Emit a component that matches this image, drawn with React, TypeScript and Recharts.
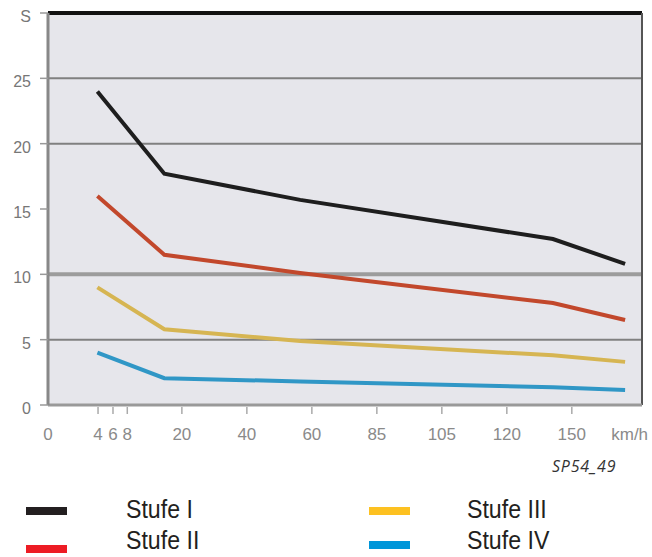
import { CartesianGrid, Legend, Line, LineChart, ReferenceLine, XAxis, YAxis } from "recharts";

// x positions of the axis labels (the axis is not linear, so positions are in label slots)
const xTickPos = [0, 0.77, 1.0, 1.22, 2.06, 3.06, 4.06, 5.06, 6.06, 7.06, 8.06, 8.95];
const xTickLabels = ["0", "4", "6", "8", "20", "40", "60", "85", "105", "120", "150", "km/h"];
const yTicks = [0, 5, 10, 15, 20, 25, 30];
const gridValues = [5, 10, 20, 25];

// where the measured points sit on that same slot scale
const pointPos = [0.76, 1.79, 3.88, 7.77, 8.88];
const stufe1 = [24.0, 17.7, 15.7, 12.7, 10.8];
const stufe2 = [16.0, 11.5, 10.1, 7.8, 6.5];
const stufe3 = [9.0, 5.8, 4.9, 3.8, 3.3];
const stufe4 = [4.0, 2.05, 1.8, 1.35, 1.15];

const seriesNames = ["Stufe I", "Stufe II", "Stufe III", "Stufe IV"];
const lineColors = ["#1e1e1e", "#c2482c", "#d6b552", "#3097c6"];
const legendColors = ["#231f20", "#ed1c24", "#fdc121", "#0096d9"];

const X_MAX = 9.14;

const data = pointPos.map((p, i) => ({
  pos: p,
  s1: stufe1[i],
  s2: stufe2[i],
  s3: stufe3[i],
  s4: stufe4[i],
}));

const XTick = (props: any) => {
  const { x, y, index } = props;
  const label = xTickLabels[index];
  const showMark = index > 0 && index < xTickLabels.length - 1;
  return (
    <g>
      {showMark && <line x1={x} x2={x} y1={y} y2={y + 7} stroke="#aaa" strokeWidth={1.5} />}
      <text x={x} y={y + 33} textAnchor="middle" fill="#8a8a8a" fontSize={17} fontFamily="Liberation Sans, Arial, sans-serif">
        {label}
      </text>
    </g>
  );
};

const YTick = (props: any) => {
  const { y, payload } = props;
  const label = payload.value === 30 ? "S" : String(payload.value);
  return (
    <g>
      <line x1={40} x2={48} y1={y} y2={y} stroke="#999" strokeWidth={1.5} />
      <text x={31} y={y + 9} textAnchor="end" fill="#777" fontSize={16} fontFamily="Liberation Sans, Arial, sans-serif">
        {label}
      </text>
    </g>
  );
};

const LegendBlock = () => {
  // left column: I, II; right column: III, IV
  const cols = [
    [0, 1],
    [2, 3],
  ];
  const colX = [26, 369];
  const textX = [126, 467];
  const rowTop = [46, 77];
  const swatchTop = [57, 95];
  return (
    <div style={{ position: "relative", width: 652, height: 107 }}>
      <span
        style={{
          position: "absolute",
          left: 552,
          top: 6,
          fontFamily: "'Open Sans', sans-serif",
          fontStyle: "italic",
          fontSize: 16,
          letterSpacing: 0.8,
          lineHeight: "20px",
          color: "#333",
          whiteSpace: "nowrap",
        }}
      >
        SP54_49
      </span>
      {cols.map((col, c) =>
        col.map((si, r) => (
          <div key={si}>
            <div
              style={{
                position: "absolute",
                left: colX[c],
                top: swatchTop[r] - (c === 1 && r === 1 ? 4 : 0),
                width: 41,
                height: 8,
                background: legendColors[si],
              }}
            />
            <span
              style={{
                position: "absolute",
                left: textX[c],
                top: rowTop[r],
                display: "inline-block",
                transform: "scaleX(0.89)",
                transformOrigin: "left center",
                fontFamily: "'Liberation Sans', Arial, sans-serif",
                fontSize: 26,
                lineHeight: "27px",
                color: "#231f20",
                whiteSpace: "nowrap",
              }}
            >
              {seriesNames[si]}
            </span>
          </div>
        ))
      )}
    </div>
  );
};

export default function App() {
  return (
    <div style={{ position: "absolute", left: 0, top: 0, width: 652, height: 557, background: "#fff" }}>
      <LineChart width={652} height={557} data={data} margin={{ top: 13, right: 10, left: 0, bottom: 112 }}>
        <CartesianGrid fill="#e6e6eb" horizontal={false} vertical={false} />
        {gridValues.map((v) => (
          <ReferenceLine
            key={v}
            y={v}
            stroke={v === 10 ? "#9c9c9c" : "#808080"}
            strokeWidth={v === 10 ? 4 : 2}
          />
        ))}
        <ReferenceLine y={30} stroke="#111" strokeWidth={4} />
        <ReferenceLine x={X_MAX} stroke="#555" strokeWidth={2} />
        <XAxis
          type="number"
          dataKey="pos"
          domain={[0, X_MAX]}
          ticks={xTickPos}
          interval={0}
          tick={<XTick />}
          tickLine={false}
          tickSize={0}
          axisLine={{ stroke: "#999", strokeWidth: 3 }}
          height={40}
          allowDataOverflow
        />
        <YAxis
          type="number"
          domain={[0, 30]}
          ticks={yTicks}
          interval={0}
          tick={<YTick />}
          tickLine={false}
          axisLine={{ stroke: "#888", strokeWidth: 3 }}
          width={48}
        />
        <Line type="linear" dataKey="s1" name={seriesNames[0]} stroke={lineColors[0]} strokeWidth={4} dot={false} isAnimationActive={false} />
        <Line type="linear" dataKey="s2" name={seriesNames[1]} stroke={lineColors[1]} strokeWidth={4} dot={false} isAnimationActive={false} />
        <Line type="linear" dataKey="s3" name={seriesNames[2]} stroke={lineColors[2]} strokeWidth={4} dot={false} isAnimationActive={false} />
        <Line type="linear" dataKey="s4" name={seriesNames[3]} stroke={lineColors[3]} strokeWidth={4} dot={false} isAnimationActive={false} />
        <Legend
          layout="horizontal"
          verticalAlign="middle"
          content={() => <LegendBlock />}
          wrapperStyle={{ top: 450, left: 0, width: 652, height: 107 }}
        />
      </LineChart>
    </div>
  );
}
